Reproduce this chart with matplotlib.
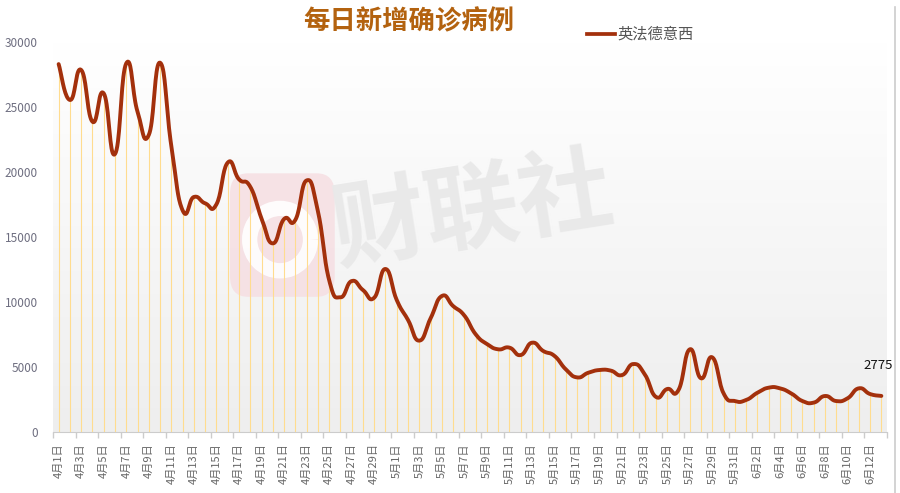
import numpy as np
import matplotlib.pyplot as plt
from matplotlib.colors import LinearSegmentedColormap
from matplotlib.patches import FancyBboxPatch, Arc
from matplotlib.lines import Line2D

plt.rcParams['font.family'] = ['Noto Sans CJK SC', 'DejaVu Sans']

# 日期（4月1日 - 6月13日）
dates = ([f'4月{d}日' for d in range(1, 31)]
         + [f'5月{d}日' for d in range(1, 32)]
         + [f'6月{d}日' for d in range(1, 14)])

# 英法德意西 每日新增确诊
cases = [28300, 25540, 27850, 23870, 26050, 21380, 28360, 24640, 22850, 28410,
         22000, 17050, 18080, 17590, 17510, 20720, 19440, 18870, 16440, 14510,
         16380, 16310, 19350, 17000, 11690, 10360, 11610, 10920, 10330, 12540,
         10150, 8620, 7030, 8740, 10460, 9690, 8960, 7520, 6770, 6360,
         6490, 5920, 6870, 6230, 5850, 4820, 4200, 4560, 4770, 4720,
         4380, 5230, 4450, 2700, 3310, 3230, 6360, 4130, 5740, 2970,
         2380, 2460, 3020, 3410, 3360, 2970, 2380, 2260, 2770, 2380,
         2590, 3360, 2920, 2775]

series_name = '英法德意西'
title = '每日新增确诊病例'
yticks = [0, 5000, 10000, 15000, 20000, 25000, 30000]


def smooth_curve(xs, ys, k=0.25, steps=20):
    # 贝塞尔平滑，只用于画线
    xs = np.asarray(xs, float)
    ys = np.asarray(ys, float)
    n = len(xs)
    t = np.linspace(0, 1, steps)[:, None]
    out = []
    for i in range(n - 1):
        a, b = max(i - 1, 0), min(i + 2, n - 1)
        p0 = np.array([xs[i], ys[i]])
        p3 = np.array([xs[i + 1], ys[i + 1]])
        p1 = p0 + (np.array([xs[i + 1], ys[i + 1]]) - np.array([xs[a], ys[a]])) * k
        p2 = p3 - (np.array([xs[b], ys[b]]) - np.array([xs[i], ys[i]])) * k
        seg = ((1 - t) ** 3) * p0 + 3 * ((1 - t) ** 2) * t * p1 + 3 * (1 - t) * t ** 2 * p2 + t ** 3 * p3
        out.append(seg if i == 0 else seg[1:])
    out = np.vstack(out)
    return out[:, 0], out[:, 1]


x = np.arange(len(dates))

fig = plt.figure(figsize=(9, 4.93), dpi=100)
ax = fig.add_axes([53 / 900, 1 - 432 / 493, (887 - 53) / 900, (432 - 42) / 493])

# 背景渐变
bg = LinearSegmentedColormap.from_list('bg', ['#ffffff', '#eeeeee'])
ax.imshow(np.linspace(0, 1, 256).reshape(-1, 1), extent=[-0.5, len(x) - 0.5, 0, 30000],
          aspect='auto', cmap=bg, zorder=0)

# 水印
ax.add_patch(FancyBboxPatch((15.2, 10400), 9.3, 9500,
                            boxstyle='round,pad=0,rounding_size=1.6', mutation_aspect=1000,
                            fc='#f6dde1', ec='none', alpha=0.8, zorder=1))
ax.add_patch(Arc((19.65, 14800), 5.4, 4800, theta1=40, theta2=330,
                 color='white', lw=11, alpha=0.9, zorder=1))
ax.text(36.8, 16900, '财联社', fontsize=68, fontweight='bold', color='#e9e9e9',
        ha='center', va='center', rotation=9, zorder=1)

# 垂线
ax.vlines(x, 0, cases, color='#ffdc8f', lw=0.8, zorder=2)

# 平滑曲线
sx, sy = smooth_curve(x, cases)
ax.plot(sx, sy, color='#a3300c', lw=2.8, solid_capstyle='round', zorder=3)

ax.annotate(str(cases[-1]), (x[-1], cases[-1]), xytext=(-2, 22), textcoords='offset points',
            ha='center', va='center', fontsize=9.5, color='#111111', zorder=4)

ax.set_xlim(-0.5, len(x) - 0.5)
ax.set_ylim(0, 30000)
ax.set_yticks(yticks)
ax.tick_params(axis='y', length=0, pad=11, labelsize=8.5, labelcolor='#6e6e80')

ax.set_xticks(np.arange(-0.5, len(x), 2))
ax.set_xticklabels([])
ax.set_xticks(x[::2], minor=True)
ax.set_xticklabels(dates[::2], minor=True, rotation=90, fontsize=8, color='#666666')
ax.tick_params(axis='x', which='major', length=4, color='#cccccc', width=1)
ax.tick_params(axis='x', which='minor', length=0, pad=8)

for s in ['top', 'right', 'left']:
    ax.spines[s].set_visible(False)
ax.spines['bottom'].set_color('#cccccc')

# 标题和图例
fig.text(0.454, 0.955, title, ha='center', va='center', fontsize=19,
         fontweight='bold', color='#b3620f')
fig.add_artist(Line2D([587 / 900, 615 / 900], [1 - 34 / 493] * 2, color='#a3300c', lw=2.7))
fig.text(617 / 900, 1 - 34 / 493, series_name, ha='left', va='center', fontsize=11, color='#555555')

# 右侧边框
fig.add_artist(Line2D([895 / 900] * 2, [0, 0.985], color='#cccccc', lw=1.2))

fig.savefig('out.png', dpi=100)
